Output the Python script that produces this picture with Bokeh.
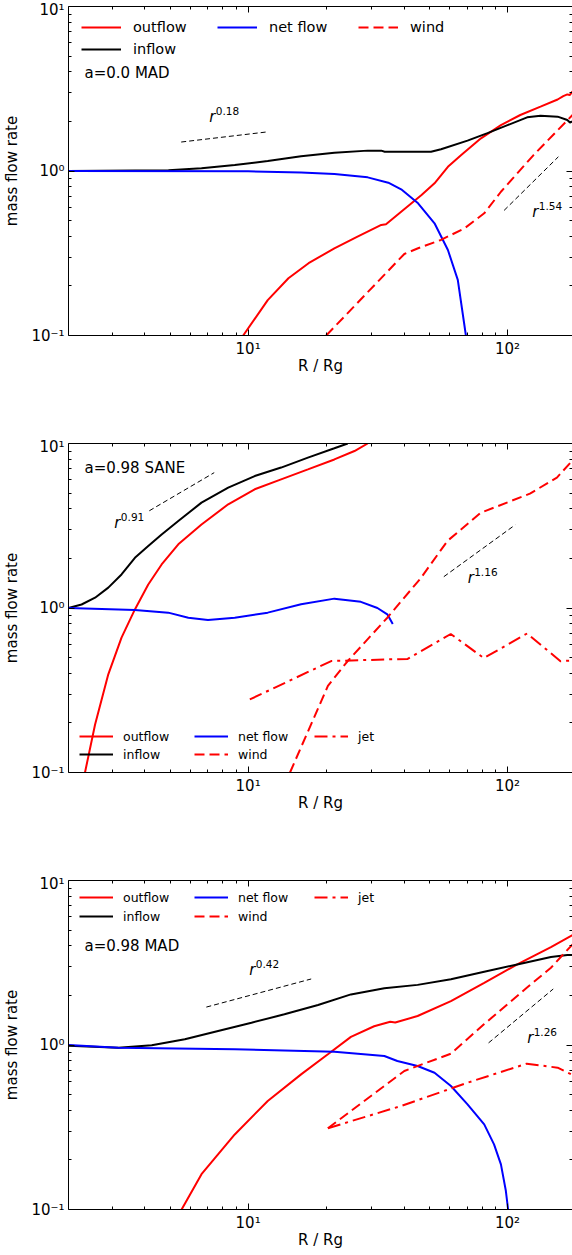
from bokeh.plotting import figure
from bokeh.models import (Range1d, LogAxis, FixedTicker, CustomJSTickFormatter,
                          Legend, LegendItem, Label)
from bokeh.layouts import column
from bokeh.embed import file_html
from bokeh.resources import INLINE
from bokeh.core.properties import value

# ---------------- data ----------------
# Panel 1 : a=0.0 MAD
p1_outflow_r = [9.57, 11.9, 14.3, 17.1, 21.5, 26.4, 32.6, 34.0, 38.9, 46.6, 52.3, 58.9, 66.3, 79.0, 94.3, 112, 134, 156, 164, 170, 174, 178]
p1_outflow_v = [0.1, 0.164, 0.223, 0.275, 0.339, 0.399, 0.470, 0.475, 0.566, 0.715, 0.842, 1.06, 1.25, 1.58, 1.90, 2.19, 2.46, 2.72, 2.85, 2.92, 2.90, 3.05]
p1_inflow_r = [2.03, 4.93, 6.61, 8.88, 11.9, 16.0, 21.5, 28.9, 32.6, 33.6, 38.9, 50.7, 55.4, 70.1, 83.7, 100, 119, 134, 156, 170, 174, 178]
p1_inflow_v = [1.0, 1.01, 1.04, 1.087, 1.15, 1.23, 1.29, 1.33, 1.33, 1.31, 1.31, 1.31, 1.355, 1.53, 1.70, 1.90, 2.12, 2.17, 2.14, 2.04, 1.97, 2.0]
p1_net_r = [2.03, 10, 16.0, 21.5, 28.9, 34.7, 38.9, 45.2, 52.3, 58.9, 64.3, 69.1]
p1_net_v = [1.0, 0.995, 0.98, 0.958, 0.915, 0.849, 0.774, 0.636, 0.481, 0.331, 0.218, 0.1]
p1_wind_r = [20.0, 40.0, 45.2, 55.4, 68.2, 81.3, 94.3, 126, 178]
p1_wind_v = [0.1, 0.313, 0.339, 0.381, 0.448, 0.553, 0.748, 1.25, 2.19]
p1_guide_a_r = [5.52, 11.9]
p1_guide_a_v = [1.50, 1.73]
p1_guide_b_r = [97, 157]
p1_guide_b_v = [0.576, 1.22]
p1_guide_labels = ["0.18", "1.54"]
p1_guide_label_r = [7.08, 124.6]
p1_guide_label_v = [2.13, 0.563]

# Panel 2 : a=0.98 SANE
p2_outflow_r = [2.35, 2.57, 2.89, 3.25, 3.66, 4.12, 4.64, 5.38, 6.61, 8.38, 10.6, 13.4, 17.0, 21.5, 25.7, 28.9]
p2_outflow_v = [0.1, 0.196, 0.395, 0.66, 0.98, 1.39, 1.84, 2.44, 3.22, 4.27, 5.27, 6.05, 6.96, 8.0, 9.0, 10.0]
p2_inflow_r = [2.03, 2.28, 2.57, 2.89, 3.25, 3.66, 4.12, 4.64, 5.38, 6.61, 8.38, 10.6, 13.4, 17.0, 21.5, 24.2]
p2_inflow_v = [1.0, 1.05, 1.155, 1.33, 1.60, 2.02, 2.38, 2.80, 3.38, 4.37, 5.39, 6.34, 7.14, 8.2, 9.35, 10.0]
p2_net_r = [2.03, 3.66, 4.92, 5.88, 7.0, 8.88, 11.9, 16.0, 21.5, 27.2, 31.5, 34.4, 36.1]
p2_net_v = [1.0, 0.972, 0.937, 0.873, 0.845, 0.873, 0.937, 1.053, 1.14, 1.09, 1.0, 0.915, 0.8]
p2_wind_r = [14.5, 20.3, 24.2, 34.4, 46.3, 58.7, 78.8, 122, 155, 178]
p2_wind_v = [0.1, 0.336, 0.476, 0.873, 1.52, 2.56, 3.79, 4.96, 6.2, 7.9]
p2_jet_r = [10.15, 20.9, 34.5, 41.2, 60.4, 81, 119, 160, 178]
p2_jet_v = [0.278, 0.476, 0.487, 0.49, 0.695, 0.496, 0.70, 0.475, 0.48]
p2_guide_a_r = [4.16, 7.4]
p2_guide_a_v = [3.9, 6.65]
p2_guide_b_r = [56.8, 107]
p2_guide_b_v = [1.55, 3.2]
p2_guide_labels = ["0.91", "1.16"]
p2_guide_label_r = [3.05, 70.2]
p2_guide_label_v = [3.3, 1.52]

# Panel 3 : a=0.98 MAD
p3_outflow_r = [5.54, 6.61, 8.88, 11.9, 16.0, 20.3, 24.9, 30.6, 35.3, 36.9, 45.0, 60.5, 81.3, 109, 147, 178]
p3_outflow_v = [0.1, 0.164, 0.286, 0.457, 0.663, 0.878, 1.12, 1.30, 1.386, 1.37, 1.50, 1.85, 2.39, 3.09, 3.94, 4.66]
p3_inflow_r = [2.03, 3.16, 4.25, 5.70, 7.66, 10.3, 13.8, 18.6, 24.9, 33.5, 45.0, 60.5, 81.3, 109, 147, 170, 178]
p3_inflow_v = [0.99, 0.963, 0.996, 1.083, 1.216, 1.366, 1.536, 1.75, 2.03, 2.21, 2.32, 2.51, 2.79, 3.09, 3.43, 3.52, 3.52]
p3_net_r = [2.03, 3.16, 8.88, 21.5, 33.5, 37.6, 45.0, 52.3, 60.5, 70.1, 81.3, 88.7, 94.3, 98.5, 100.5]
p3_net_v = [1.0, 0.963, 0.942, 0.91, 0.857, 0.80, 0.745, 0.678, 0.563, 0.436, 0.329, 0.249, 0.188, 0.130, 0.1]
p3_wind_r = [20.3, 40.0, 60.5, 81.3, 118.6, 147, 178]
p3_wind_v = [0.312, 0.695, 0.886, 1.34, 2.23, 2.95, 4.09]
p3_jet_r = [20.3, 38.9, 70.1, 118.6, 156, 178]
p3_jet_v = [0.312, 0.426, 0.590, 0.770, 0.728, 0.657]
p3_guide_a_r = [6.9, 17.5]
p3_guide_a_v = [1.70, 2.52]
p3_guide_b_r = [84.5, 150]
p3_guide_b_v = [1.03, 2.19]
p3_guide_labels = ["0.42", "1.26"]
p3_guide_label_r = [10.1, 119]
p3_guide_label_v = [2.86, 1.10]

x_major = [10, 100]
x_minor = [3, 4, 5, 6, 7, 8, 9, 20, 30, 40, 50, 60, 70, 80, 90]
y_major = [0.1, 1, 10]
y_minor = [0.2, 0.3, 0.4, 0.5, 0.6, 0.7, 0.8, 0.9, 2, 3, 4, 5, 6, 7, 8, 9]

# ---------------- style ----------------
RED, BLUE, BLACK = "#ff0000", "#0000ff", "#000000"
FONT = "DejaVu Sans"
LW = 2
WIND_DASH = "10 5"
JET_DASH = "13 5 3 5"

FMT_CODE = """
const e = Math.round(Math.log10(tick));
const m = {"-": "\u207b", "0": "\u2070", "1": "\u00b9", "2": "\u00b2", "3": "\u00b3"};
let s = "";
for (const c of String(e)) { s += m[c]; }
return "10" + s;
"""


def style_axis(ax, labels=True):
    ax.major_tick_in = 6
    ax.major_tick_out = 0
    ax.minor_tick_in = 3
    ax.minor_tick_out = 0
    ax.major_tick_line_color = BLACK
    ax.minor_tick_line_color = BLACK
    ax.axis_line_color = BLACK
    ax.axis_line_width = 1
    if labels:
        ax.formatter = CustomJSTickFormatter(code=FMT_CODE)
        ax.major_label_text_font = FONT
        ax.major_label_text_font_size = "15px"
        ax.major_label_text_color = BLACK
        ax.major_label_standoff = 4
    else:
        ax.formatter = CustomJSTickFormatter(code="return '';")
        ax.major_label_text_font_size = "0px"
        ax.major_label_standoff = 0
        ax.axis_label = None


def make_panel(height, bottom_border):
    p = figure(width=572, height=height, x_axis_type="log", y_axis_type="log",
               x_range=Range1d(2.03, 178), y_range=Range1d(0.1, 10),
               output_backend="svg", toolbar_location=None,
               min_border_left=67, min_border_right=0, min_border_top=6,
               min_border_bottom=bottom_border)
    p.grid.visible = False
    p.outline_line_color = None
    p.background_fill_color = "white"
    p.border_fill_color = "white"

    xa = p.xaxis[0]
    ya = p.yaxis[0]
    xa.ticker = FixedTicker(ticks=x_major, minor_ticks=x_minor)
    ya.ticker = FixedTicker(ticks=y_major, minor_ticks=y_minor)
    style_axis(xa)
    style_axis(ya)
    xa.axis_label = "R / Rg"
    ya.axis_label = "mass flow rate"
    for ax in (xa, ya):
        ax.axis_label_text_font = FONT
        ax.axis_label_text_font_size = "15px"
        ax.axis_label_text_font_style = "normal"
        ax.axis_label_text_color = BLACK
    xa.axis_label_standoff = -4
    ya.axis_label_standoff = 7

    top = LogAxis(ticker=FixedTicker(ticks=x_major, minor_ticks=x_minor))
    style_axis(top, labels=False)
    p.add_layout(top, "above")
    right = LogAxis(ticker=FixedTicker(ticks=y_major, minor_ticks=y_minor))
    style_axis(right, labels=False)
    right.axis_line_color = None
    p.add_layout(right, "right")
    return p


def add_guides(p, ar, av, br, bv, labels, lr, lv):
    p.line(ar, av, line_color=BLACK, line_width=1, line_dash="5 3")
    p.line(br, bv, line_color=BLACK, line_width=1, line_dash="5 3")
    p.text(lr, lv, text=["r"] * len(lr), text_font=value(FONT),
           text_font_style="italic", text_font_size="15px",
           text_baseline="alphabetic", text_align="left", text_color=BLACK)
    p.text(lr, lv, text=labels, text_font=value(FONT), text_font_size="10.5px",
           text_baseline="alphabetic", text_align="left", text_color=BLACK,
           x_offset=6.5, y_offset=-6)


def legend(items, loc, font, gw, gh, spacing, standoff):
    lg = Legend(items=items, location=loc)
    lg.border_line_color = None
    lg.background_fill_alpha = 0
    lg.padding = 0
    lg.margin = 0
    lg.spacing = spacing
    lg.glyph_width = gw
    lg.glyph_height = gh
    lg.label_height = gh
    lg.label_standoff = standoff
    lg.label_text_font = FONT
    lg.label_text_font_size = font
    lg.label_text_baseline = "middle"
    lg.label_text_color = BLACK
    return lg


# ---------------- panel 1 ----------------
p1 = make_panel(437, 102)
r1_out = p1.line(p1_outflow_r, p1_outflow_v, line_color=RED, line_width=LW)
r1_in = p1.line(p1_inflow_r, p1_inflow_v, line_color=BLACK, line_width=LW)
r1_net = p1.line(p1_net_r, p1_net_v, line_color=BLUE, line_width=LW)
r1_wind = p1.line(p1_wind_r, p1_wind_v, line_color=RED, line_width=LW, line_dash=WIND_DASH)
add_guides(p1, p1_guide_a_r, p1_guide_a_v, p1_guide_b_r, p1_guide_b_v,
           p1_guide_labels, p1_guide_label_r, p1_guide_label_v)
p1.add_layout(legend([LegendItem(label="outflow", renderers=[r1_out]),
                      LegendItem(label="inflow", renderers=[r1_in])],
                     (13, 276), "14.5px", 40, 20, 2, 12), "center")
p1.add_layout(legend([LegendItem(label="net flow", renderers=[r1_net])],
                     (149, 298), "14.5px", 40, 20, 2, 12), "center")
p1.add_layout(legend([LegendItem(label="wind", renderers=[r1_wind])],
                     (290, 298), "14.5px", 40, 20, 2, 12), "center")
p1.add_layout(Label(x=16, y=263, x_units="screen", y_units="screen", text="a=0.0 MAD",
                    text_font=FONT, text_font_size="15px", text_baseline="middle",
                    text_color=BLACK))

# ---------------- panel 2 ----------------
p2 = make_panel(437, 102)
r2_out = p2.line(p2_outflow_r, p2_outflow_v, line_color=RED, line_width=LW)
r2_in = p2.line(p2_inflow_r, p2_inflow_v, line_color=BLACK, line_width=LW)
r2_net = p2.line(p2_net_r, p2_net_v, line_color=BLUE, line_width=LW)
r2_wind = p2.line(p2_wind_r, p2_wind_v, line_color=RED, line_width=LW, line_dash=WIND_DASH)
r2_jet = p2.line(p2_jet_r, p2_jet_v, line_color=RED, line_width=LW, line_dash=JET_DASH)
add_guides(p2, p2_guide_a_r, p2_guide_a_v, p2_guide_b_r, p2_guide_b_v,
           p2_guide_labels, p2_guide_label_r, p2_guide_label_v)
p2.add_layout(legend([LegendItem(label="outflow", renderers=[r2_out]),
                      LegendItem(label="inflow", renderers=[r2_in])],
                     (11, 10), "12.5px", 34, 16, 2, 10), "center")
p2.add_layout(legend([LegendItem(label="net flow", renderers=[r2_net]),
                      LegendItem(label="wind", renderers=[r2_wind])],
                     (126, 10), "12.5px", 34, 16, 2, 10), "center")
p2.add_layout(legend([LegendItem(label="jet", renderers=[r2_jet])],
                     (246, 28), "12.5px", 34, 16, 2, 10), "center")
p2.add_layout(Label(x=16, y=305, x_units="screen", y_units="screen", text="a=0.98 SANE",
                    text_font=FONT, text_font_size="15px", text_baseline="middle",
                    text_color=BLACK))

# ---------------- panel 3 ----------------
p3 = make_panel(381, 46)
r3_out = p3.line(p3_outflow_r, p3_outflow_v, line_color=RED, line_width=LW)
r3_in = p3.line(p3_inflow_r, p3_inflow_v, line_color=BLACK, line_width=LW)
r3_net = p3.line(p3_net_r, p3_net_v, line_color=BLUE, line_width=LW)
r3_wind = p3.line(p3_wind_r, p3_wind_v, line_color=RED, line_width=LW, line_dash=WIND_DASH)
r3_jet = p3.line(p3_jet_r, p3_jet_v, line_color=RED, line_width=LW, line_dash=JET_DASH)
add_guides(p3, p3_guide_a_r, p3_guide_a_v, p3_guide_b_r, p3_guide_b_v,
           p3_guide_labels, p3_guide_label_r, p3_guide_label_v)
p3.add_layout(legend([LegendItem(label="outflow", renderers=[r3_out]),
                      LegendItem(label="inflow", renderers=[r3_in])],
                     (11, 285), "12.5px", 34, 16, 3, 10), "center")
p3.add_layout(legend([LegendItem(label="net flow", renderers=[r3_net]),
                      LegendItem(label="wind", renderers=[r3_wind])],
                     (126, 285), "12.5px", 34, 16, 3, 10), "center")
p3.add_layout(legend([LegendItem(label="jet", renderers=[r3_jet])],
                     (246, 304), "12.5px", 34, 16, 3, 10), "center")
p3.add_layout(Label(x=16, y=264, x_units="screen", y_units="screen", text="a=0.98 MAD",
                    text_font=FONT, text_font_size="15px", text_baseline="middle",
                    text_color=BLACK))

layout = column(p1, p2, p3, spacing=0)

open("out.html", "w").write(file_html(layout, INLINE))
